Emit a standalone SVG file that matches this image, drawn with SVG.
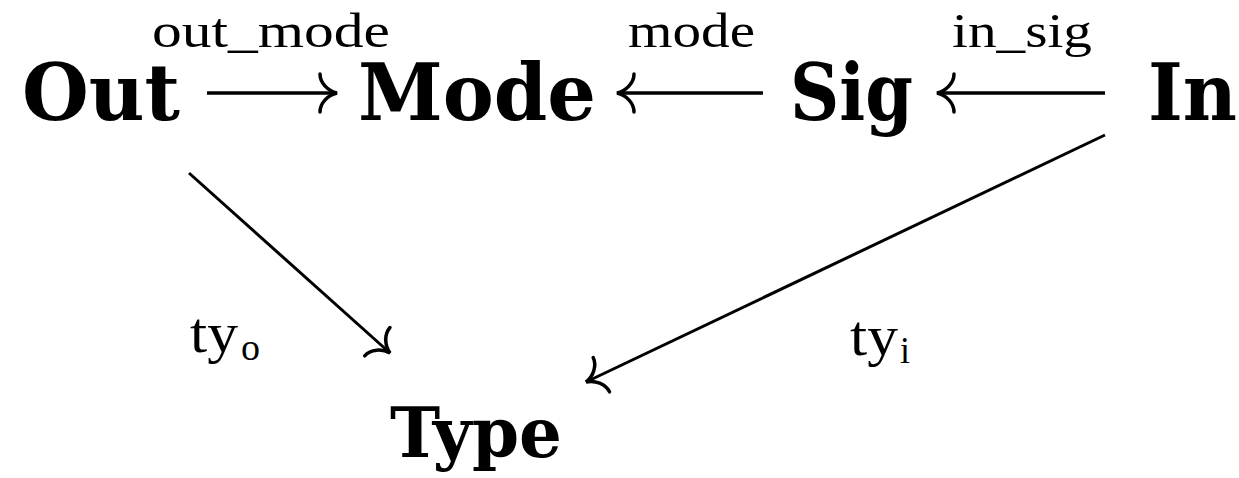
<svg xmlns="http://www.w3.org/2000/svg" width="1239" height="478" viewBox="0 0 1239 478">
<style>
.obj{font-family:"DejaVu Serif","Liberation Serif",serif;font-weight:bold;font-size:78px;fill:#000}
.tt{font-family:"DejaVu Serif","Liberation Serif",serif;font-weight:bold;font-size:70px;fill:#000}
.lbl{font-family:"Liberation Serif","DejaVu Serif",serif;font-size:48px;fill:#000}
.ty{font-family:"Liberation Serif","DejaVu Serif",serif;font-size:56px;fill:#000}
.sub{font-family:"Liberation Serif","DejaVu Serif",serif;font-size:38px;fill:#000}
.edge{stroke:#000;stroke-width:3;fill:none;marker-end:url(#arr)}
.h{stroke-width:3.5}
</style>
<defs>
<marker id="arr" markerUnits="userSpaceOnUse" orient="auto" viewBox="-22 -22 26 44" refX="0" refY="0" markerWidth="26" markerHeight="44" overflow="visible">
<path d="M -17,-19 C -17,-10 -9,-2 0,0 C -9,2 -17,10 -17,19" stroke="#000" stroke-width="3.5" fill="none" stroke-linecap="round"/>
</marker>
</defs>
<rect width="1239" height="478" fill="#fff"/>
<g id="connectors">
<line class="edge h" x1="207" y1="93" x2="337" y2="93"/>
<line class="edge h" x1="763" y1="93" x2="617" y2="93"/>
<line class="edge h" x1="1105" y1="93" x2="937" y2="93"/>
<line class="edge" x1="189" y1="173" x2="390" y2="353"/>
<line class="edge" x1="1105" y1="135" x2="586" y2="382"/>
<text class="lbl" x="152" y="47" textLength="238" lengthAdjust="spacingAndGlyphs">out_mode</text>
<text class="lbl" x="628" y="47" textLength="127" lengthAdjust="spacingAndGlyphs">mode</text>
<text class="lbl" x="952" y="47" textLength="140" lengthAdjust="spacingAndGlyphs">in_sig</text>
<text class="ty" x="190" y="352" textLength="48" lengthAdjust="spacingAndGlyphs">ty</text>
<text class="sub" x="241" y="360" textLength="19" lengthAdjust="spacingAndGlyphs">o</text>
<text class="ty" x="850" y="355" textLength="48" lengthAdjust="spacingAndGlyphs">ty</text>
<text class="sub" x="900" y="363" textLength="10" lengthAdjust="spacingAndGlyphs">i</text>
</g>
<g id="node-out"><text class="obj" x="22" y="120" textLength="158" lengthAdjust="spacingAndGlyphs">Out</text></g>
<g id="node-mode"><text class="obj" x="358" y="120" textLength="238" lengthAdjust="spacingAndGlyphs">Mode</text></g>
<g id="node-sig"><text class="obj" x="790" y="120" textLength="123" lengthAdjust="spacingAndGlyphs">Sig</text></g>
<g id="node-in"><text class="obj" x="1148" y="120" textLength="89" lengthAdjust="spacingAndGlyphs">In</text></g>
<g id="node-type"><text class="tt" x="390" y="457" textLength="172" lengthAdjust="spacingAndGlyphs">Type</text></g>
</svg>
